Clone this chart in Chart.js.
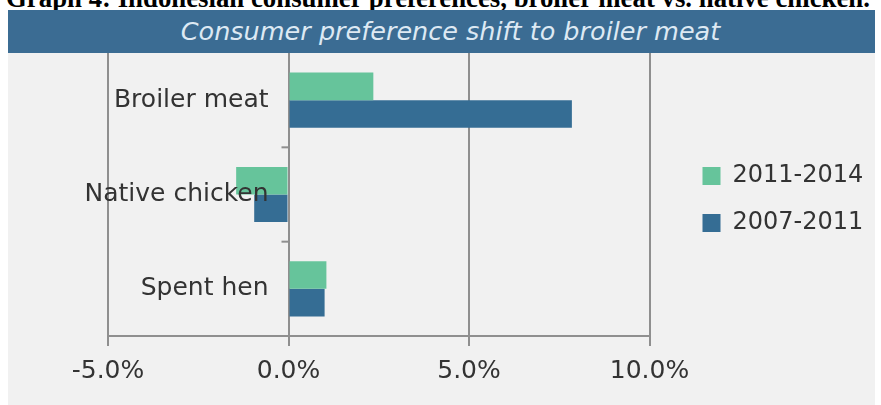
<!DOCTYPE html>
<html>
<head>
<meta charset="utf-8">
<script src="https://cdn.jsdelivr.net/npm/chart.js@4/dist/chart.umd.min.js"></script>
<style>
    html, body { margin: 0; padding: 0; background: #ffffff; width: 881px; height: 405px; overflow: hidden; }
    #heading {
        position: absolute; left: 6px; top: -15px; white-space: nowrap;
        font: bold 26.8px "Liberation Serif", serif; line-height: 27px; color: #000;
    }
    #band {
        position: absolute; left: 8px; top: 10px; width: 849px; height: 43px; padding-left: 18px;
        background: #3b6c93; color: #dde9f3; text-align: center;
        font: italic 25.5px "DejaVu Sans", sans-serif; line-height: 42px;
    }
    #panel {
        position: absolute; left: 8px; top: 53px; width: 867px; height: 352px;
        background: #f1f1f1;
    }
</style>
</head>
<body>
<div id="heading">Graph 4: Indonesian consumer preferences, broiler meat vs. native chicken.</div>
<div id="band">Consumer preference shift to broiler meat</div>
<div id="panel"><canvas id="shiftChart"></canvas></div>
<script>
// Données du graphique (en %)
const categories = ['Broiler meat', 'Native chicken', 'Spent hen'];
const period2011_2014 = [2.35, -1.45, 1.05];
const period2007_2011 = [7.85, -0.95, 1.0];
const xTicks = [-5, 0, 5, 10];

const gridColor = '#8f8f8f';
const textColor = '#333333';

// Libellés des catégories, dessinés à gauche de l'axe zéro
const categoryLabels = {
    id: 'categoryLabels',
    afterDatasetsDraw(chart) {
        const { ctx, scales: { x, y } } = chart;
        const x0 = x.getPixelForValue(0);
        ctx.save();
        ctx.strokeStyle = gridColor;
        ctx.lineWidth = 2;
        for (let i = 0; i < categories.length - 1; i++) {
            const yy = (y.getPixelForValue(i) + y.getPixelForValue(i + 1)) / 2;
            ctx.beginPath();
            ctx.moveTo(x0 - 7, yy);
            ctx.lineTo(x0, yy);
            ctx.stroke();
        }
        ctx.font = '25px "DejaVu Sans"';
        ctx.fillStyle = textColor;
        ctx.textAlign = 'right';
        ctx.textBaseline = 'middle';
        categories.forEach((c, i) => ctx.fillText(c, x0 - 20, y.getPixelForValue(i)));
        ctx.restore();
    }
};

document.addEventListener('DOMContentLoaded', function() {
    const data = {
        labels: categories,
        datasets: [{
            label: '2011-2014',
            data: period2011_2014,
            backgroundColor: '#66c49b',
            borderWidth: 0
        }, {
            label: '2007-2011',
            data: period2007_2011,
            backgroundColor: '#356d94',
            borderWidth: 0
        }]
    };

    const config = {
        type: 'bar',
        data: data,
        options: {
            indexAxis: 'y',
            responsive: true,
            maintainAspectRatio: false,
            animation: false,
            categoryPercentage: 0.585,
            barPercentage: 1.0,
            layout: { padding: { left: 100, top: 0, right: 5, bottom: 9 } },
            plugins: {
                legend: {
                    position: 'right',
                    fullSize: false,
                    title: { display: true, text: '', padding: { top: 9, bottom: 0 }, font: { size: 1 } },
                    labels: {
                        boxWidth: 18,
                        boxHeight: 18,
                        padding: 23,
                        color: textColor,
                        font: { family: 'DejaVu Sans', size: 24 }
                    }
                },
                title: { display: false },
                tooltip: { enabled: false }
            },
            scales: {
                x: {
                    min: -5,
                    max: 10,
                    afterBuildTicks: function(scale) {
                        scale.ticks = xTicks.map(v => ({ value: v }));
                    },
                    ticks: {
                        padding: 10,
                        color: textColor,
                        font: { family: 'DejaVu Sans', size: 25 },
                        callback: value => value.toFixed(1) + '%'
                    },
                    grid: { color: gridColor, lineWidth: 2, tickLength: 10 },
                    border: { color: gridColor, width: 2 }
                },
                y: {
                    position: 'right',
                    ticks: { display: false },
                    grid: { display: false },
                    border: { display: false },
                    afterFit: function(scale) { scale.width = 30; }
                }
            }
        },
        plugins: [categoryLabels]
    };

    new Chart(document.getElementById('shiftChart'), config);
});
</script>
</body>
</html>
